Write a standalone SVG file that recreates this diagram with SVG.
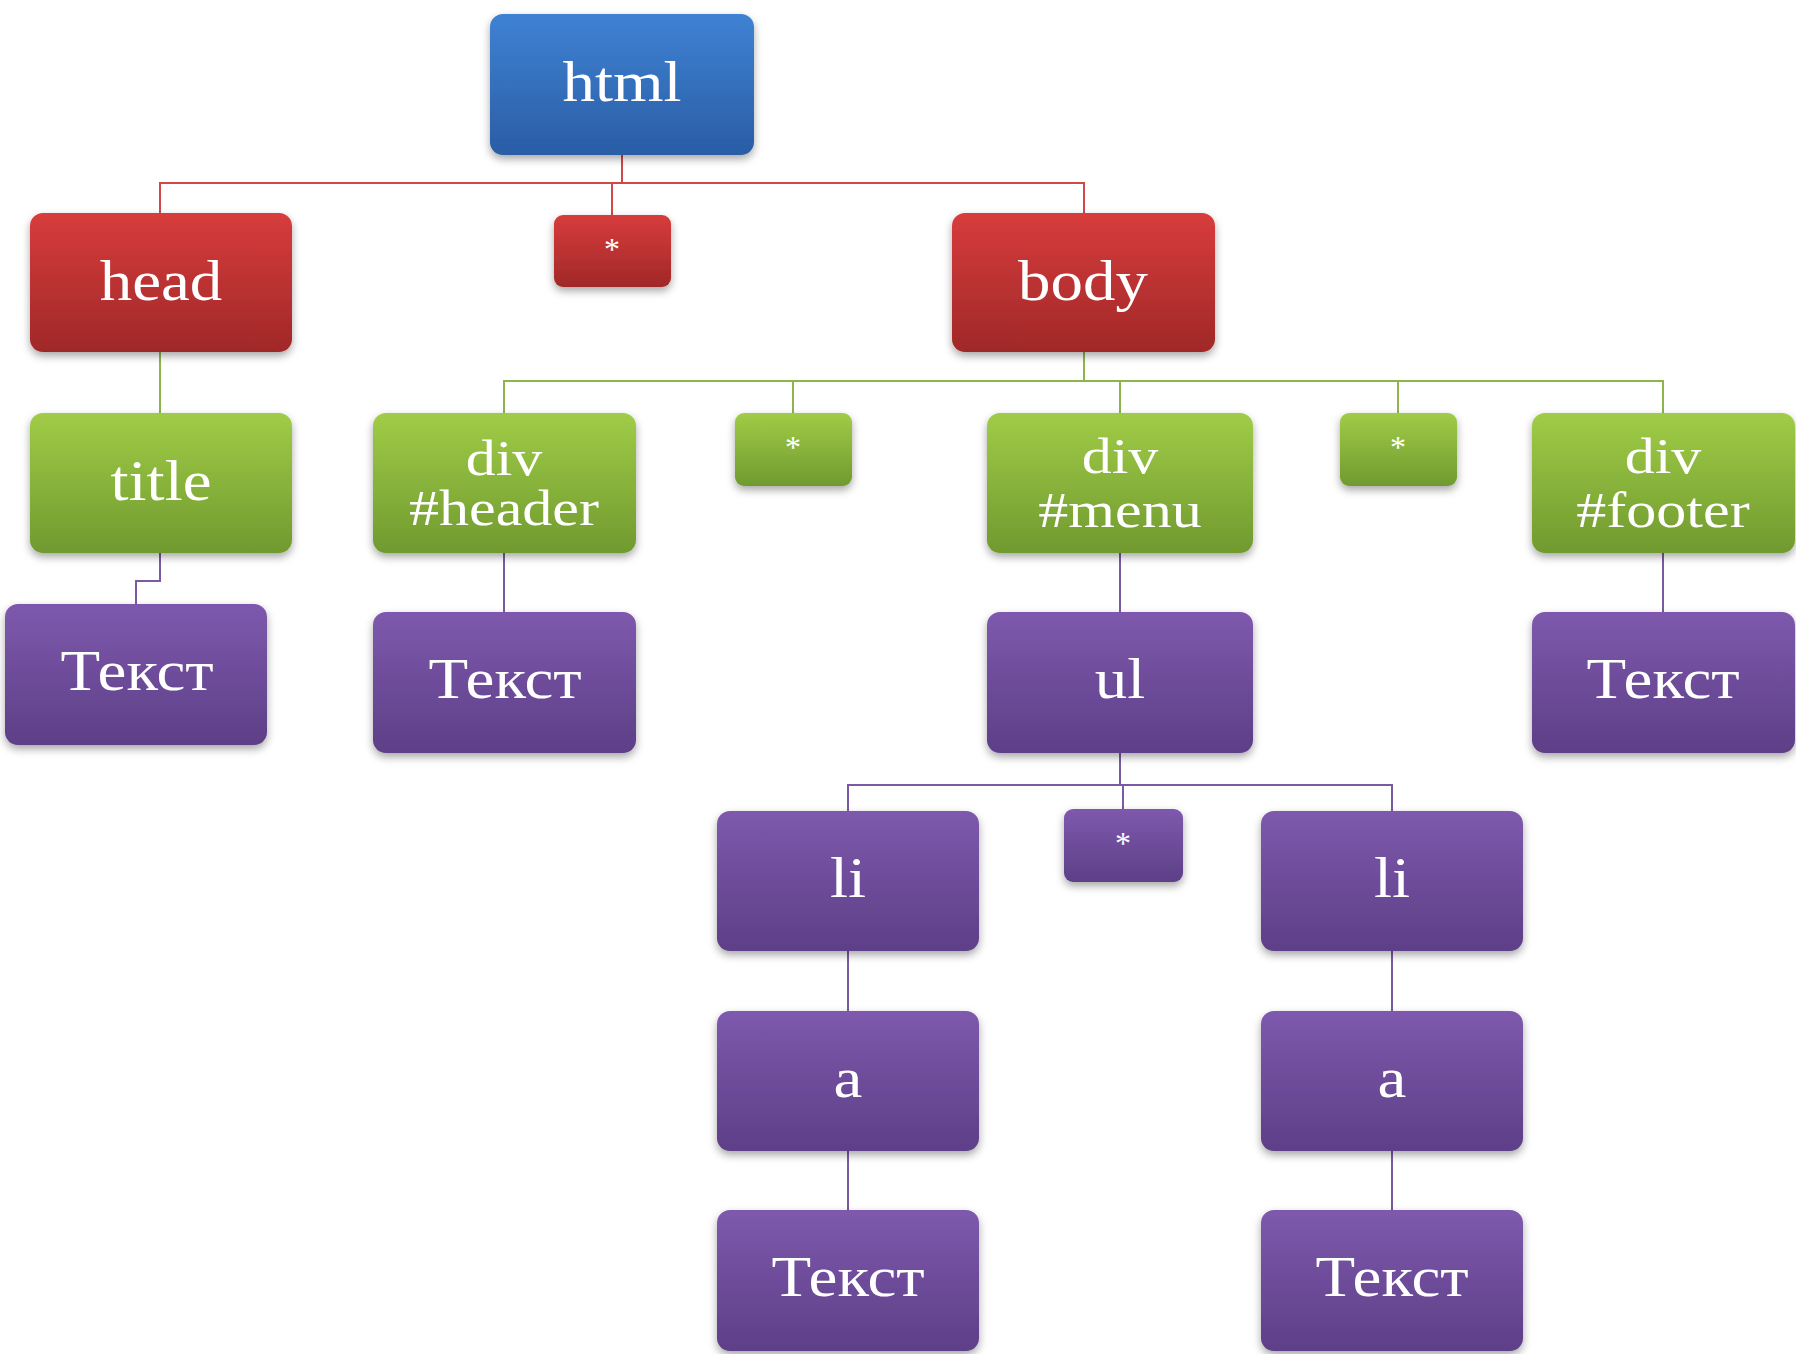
<svg xmlns="http://www.w3.org/2000/svg" width="1796" height="1354" viewBox="0 0 1796 1354">
<defs>
<linearGradient id="gBlue" x1="0" y1="0" x2="0" y2="1"><stop offset="0" stop-color="#3f82d3"/><stop offset="1" stop-color="#2a5da5"/></linearGradient>
<linearGradient id="gRed" x1="0" y1="0" x2="0" y2="1"><stop offset="0" stop-color="#d83c3c"/><stop offset="1" stop-color="#a02828"/></linearGradient>
<linearGradient id="gGreen" x1="0" y1="0" x2="0" y2="1"><stop offset="0" stop-color="#a0cc47"/><stop offset="1" stop-color="#709a2f"/></linearGradient>
<linearGradient id="gPurple" x1="0" y1="0" x2="0" y2="1"><stop offset="0" stop-color="#7e59ad"/><stop offset="1" stop-color="#5d3f87"/></linearGradient>
<filter id="sh" x="-10%" y="-10%" width="120%" height="130%"><feDropShadow dx="0" dy="4" stdDeviation="4" flood-color="#000" flood-opacity="0.35"/></filter>
</defs>
<style>
.box{filter:url(#sh)}
.blue{fill:url(#gBlue)}
.red{fill:url(#gRed)}
.green{fill:url(#gGreen)}
.purple{fill:url(#gPurple)}
.t{font-family:"Liberation Serif","Times New Roman",serif;fill:#fff;text-anchor:middle}
.s1{font-size:58px}
.s2{font-size:50px}
.st{font-size:32px}
.c{fill:none;stroke-width:2}
.cr{stroke:#d04848}
.cg{stroke:#8db54a}
.cp{stroke:#7a5aa2}
</style>
<rect width="1796" height="1354" fill="#fff"/>
<g id="connectors">
<path class="c cr" d="M622,155 V183 M160,213 V183 H1084 V213 M612,183 V215"/>
<path class="c cg" d="M160,352 V413 M1084,352 V381 M504,413 V381 H1663 V413 M793,381 V413 M1120,381 V413 M1398,381 V413"/>
<path class="c cp" d="M160,553 V581 H136 V604 M504,553 V612 M1120,553 V612 M1663,553 V612 M1120,753 V785 M848,811 V785 H1392 V811 M1123,785 V809 M848,951 V1011 M848,1151 V1210 M1392,951 V1011 M1392,1151 V1210"/>
</g>
<g id="n-html"><rect class="box blue" x="490" y="14" width="264" height="141" rx="13"/><text class="t s1" transform="matrix(1.12 0 0 1 622 101)">html</text></g>
<g id="n-head"><rect class="box red" x="30" y="213" width="262" height="139" rx="13"/><text class="t s1" transform="matrix(1.12 0 0 1 161 300)">head</text></g>
<g id="n-star1"><rect class="box red" x="554" y="215" width="117" height="72" rx="9"/><text class="t st" x="612" y="260">*</text></g>
<g id="n-body"><rect class="box red" x="952" y="213" width="263" height="139" rx="13"/><text class="t s1" transform="matrix(1.12 0 0 1 1083 300)">body</text></g>
<g id="n-title"><rect class="box green" x="30" y="413" width="262" height="140" rx="13"/><text class="t s1" transform="matrix(1.12 0 0 1 161 500)">title</text></g>
<g id="n-header"><rect class="box green" x="373" y="413" width="263" height="140" rx="13"/><text class="t s2" transform="matrix(1.2 0 0 1 504 475)">div</text><text class="t s2" transform="matrix(1.2 0 0 1 504 525)">#header</text></g>
<g id="n-star2"><rect class="box green" x="735" y="413" width="117" height="73" rx="9"/><text class="t st" x="793" y="458">*</text></g>
<g id="n-menu"><rect class="box green" x="987" y="413" width="266" height="140" rx="13"/><text class="t s2" transform="matrix(1.2 0 0 1 1120 473)">div</text><text class="t s2" transform="matrix(1.2 0 0 1 1120 527)">#menu</text></g>
<g id="n-star3"><rect class="box green" x="1340" y="413" width="117" height="73" rx="9"/><text class="t st" x="1398" y="458">*</text></g>
<g id="n-footer"><rect class="box green" x="1532" y="413" width="263" height="140" rx="13"/><text class="t s2" transform="matrix(1.2 0 0 1 1663 473)">div</text><text class="t s2" transform="matrix(1.2 0 0 1 1663 527)">#footer</text></g>
<g id="n-text1"><rect class="box purple" x="5" y="604" width="262" height="141" rx="13"/><text class="t s1" transform="matrix(1.12 0 0 1 137 690)">Текст</text></g>
<g id="n-text2"><rect class="box purple" x="373" y="612" width="263" height="141" rx="13"/><text class="t s1" transform="matrix(1.12 0 0 1 505 698)">Текст</text></g>
<g id="n-ul"><rect class="box purple" x="987" y="612" width="266" height="141" rx="13"/><text class="t s1" transform="matrix(1.12 0 0 1 1120 698)">ul</text></g>
<g id="n-text3"><rect class="box purple" x="1532" y="612" width="263" height="141" rx="13"/><text class="t s1" transform="matrix(1.12 0 0 1 1663 698)">Текст</text></g>
<g id="n-li1"><rect class="box purple" x="717" y="811" width="262" height="140" rx="13"/><text class="t s1" transform="matrix(1.12 0 0 1 848 897)">li</text></g>
<g id="n-star4"><rect class="box purple" x="1064" y="809" width="119" height="73" rx="9"/><text class="t st" x="1123" y="854">*</text></g>
<g id="n-li2"><rect class="box purple" x="1261" y="811" width="262" height="140" rx="13"/><text class="t s1" transform="matrix(1.12 0 0 1 1392 897)">li</text></g>
<g id="n-a1"><rect class="box purple" x="717" y="1011" width="262" height="140" rx="13"/><text class="t s1" transform="matrix(1.12 0 0 1 848 1097)">a</text></g>
<g id="n-a2"><rect class="box purple" x="1261" y="1011" width="262" height="140" rx="13"/><text class="t s1" transform="matrix(1.12 0 0 1 1392 1097)">a</text></g>
<g id="n-text4"><rect class="box purple" x="717" y="1210" width="262" height="141" rx="13"/><text class="t s1" transform="matrix(1.12 0 0 1 848 1296)">Текст</text></g>
<g id="n-text5"><rect class="box purple" x="1261" y="1210" width="262" height="141" rx="13"/><text class="t s1" transform="matrix(1.12 0 0 1 1392 1296)">Текст</text></g>
</svg>
